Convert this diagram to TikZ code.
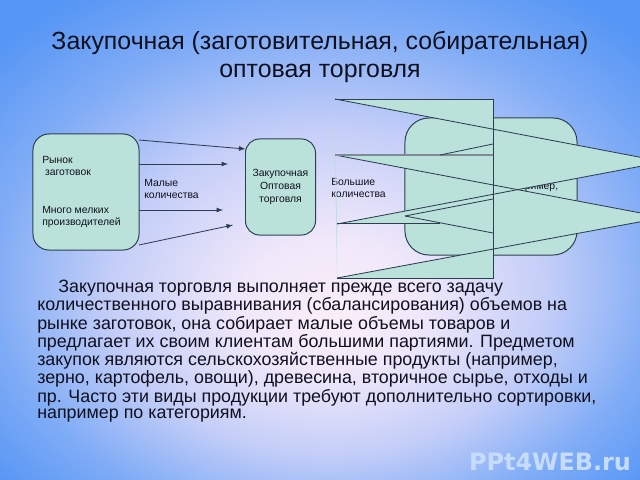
\documentclass[tikz,border=0pt]{standalone}
\usepackage{fontspec}
\setmainfont{Liberation Sans}
\newfontfamily\markfont{DejaVu Sans}
\usetikzlibrary{positioning}

\definecolor{boxteal}{RGB}{186,226,219}
\definecolor{edgecol}{RGB}{45,62,82}
\definecolor{bgblue}{RGB}{86,150,245}
\definecolor{bgblue2}{RGB}{128,172,246}
\definecolor{bgmid}{RGB}{196,206,248}
\definecolor{bgpale}{RGB}{240,232,250}
\definecolor{bgpink}{RGB}{250,238,248}
\definecolor{inkcol}{RGB}{16,16,30}
\definecolor{markcol}{RGB}{198,220,252}
\pgfdeclareradialshading{slidebg}{\pgfpoint{1bp}{-8bp}}{color(0bp)=(bgpink); color(7bp)=(bgpale); color(17bp)=(bgmid); color(26bp)=(bgblue2); color(34bp)=(bgblue); color(50bp)=(bgblue)}

\begin{document}
\begin{tikzpicture}[x=0.025cm,y=-0.025cm,
    blok/.style={draw=edgecol, line width=0.7pt, fill=boxteal, inner sep=0pt, outer sep=0pt},
    melkij/.style={text=inkcol, font=\fontsize{7.4}{9.2}\selectfont, inner sep=0pt, align=left},
    strelka/.style={draw=edgecol, line width=0.6pt, -latex},
    zagolovok/.style={text=inkcol, font=\fontsize{17.7}{20.3}\selectfont, align=center},
    tekst/.style={text=inkcol, font=\fontsize{12.7}{11.8}\selectfont, inner sep=0pt, align=left},
    znak/.style={text=markcol, font=\markfont\bfseries\fontsize{17}{20}\selectfont}]
  \useasboundingbox (0,0) rectangle (640,480);
  \clip (0,0) rectangle (640,480);
  % background of the slide
  \shade[shading=slidebg] (0,0) rectangle (640,480);

  \node[zagolovok] (titul) at (320,57) {Закупочная (заготовительная, собирательная)\\оптовая торговля};

  % boxes
  \node[blok, rounded corners=0.4cm, minimum width=2.65cm, minimum height=2.9cm] (rynok) at (86,192) {};
  \node[blok, rounded corners=0.35cm, minimum width=1.75cm, minimum height=2.4cm, melkij, align=center] (zakup) at (280.5,187) {Закупочная\\Оптовая\\торговля};
  \node[blok, rounded corners=0.6cm, minimum width=4.3cm, minimum height=3.425cm] (klient) at (491,186.5) {};

  \node[melkij, anchor=west] (rynoktxt) at (42,166) {Рынок\\\hspace*{2pt}заготовок};
  \node[melkij, anchor=west] (proiz) at (42,217) {Много мелких\\производителей};
  \node[melkij, anchor=west] (malye) at (144,189) {Малые\\количества};
  \node[melkij, anchor=west] (bolshie) at (331,188) {Большие\\количества};
  \node[melkij, anchor=west] (primer) at (519,188) {пример,};

  % arrows to the purchasing box
  \coordinate (k2) at (228,164);
  \coordinate (k3) at (223,210);
  \coordinate (k4) at (233,225);
  \draw[strelka] (rynok.east |- 0,140) -- (zakup.west |- 0,149);
  \draw[strelka] (rynok.east |- 0,164) -- (k2);
  \draw[strelka] (rynok.east |- 0,210) -- (k3);
  \draw[strelka] (rynok.east |- 0,245) -- (k4);

  % broken shape over the right box
  \fill[boxteal, even odd rule] (335,99) -- (664,161.8) -- (337,224) -- cycle
    (335,155) -- (664,217.4) -- (337,278) -- cycle
    (335,99) rectangle (493,155)
    (337,223) rectangle (493,278);
  \draw[edgecol, line width=0.6pt] (335,99) -- (664,161.8) -- (337,224);
  \draw[edgecol, line width=0.6pt] (335,155) -- (664,217.4) -- (337,278);
  \draw[edgecol, line width=0.6pt] (335,99) -- (493,99) -- (493,278) -- (337,278);
  \draw[edgecol!60, line width=1pt] (335,155) -- (493,155);
  \draw[edgecol, line width=0.6pt] (337,223) -- (440,223);
  \draw[edgecol, line width=0.6pt] (440,155) -- (493,144);
  \draw[edgecol, line width=0.6pt] (405,216) -- (493,199);
  \draw[edgecol, line width=0.6pt] (405,216) -- (493,233);

  \node[tekst, anchor=north west] (opisanie) at (37,280) {\hspace*{15pt}Закупочная торговля выполняет прежде всего задачу\\
количественного выравнивания (сбалансирования) объемов на\\
рынке заготовок, она собирает малые объемы товаров и\\
предлагает их своим клиентам большими партиями. Предметом\\
закупок являются сельскохозяйственные продукты (например,\\
зерно, картофель, овощи), древесина, вторичное сырье, отходы и\\
пр. Часто эти виды продукции требуют дополнительно сортировки,\\
например по категориям.};

  \node[znak] (ppt) at (550,462) {PPt4WEB.ru};
\end{tikzpicture}
\end{document}
